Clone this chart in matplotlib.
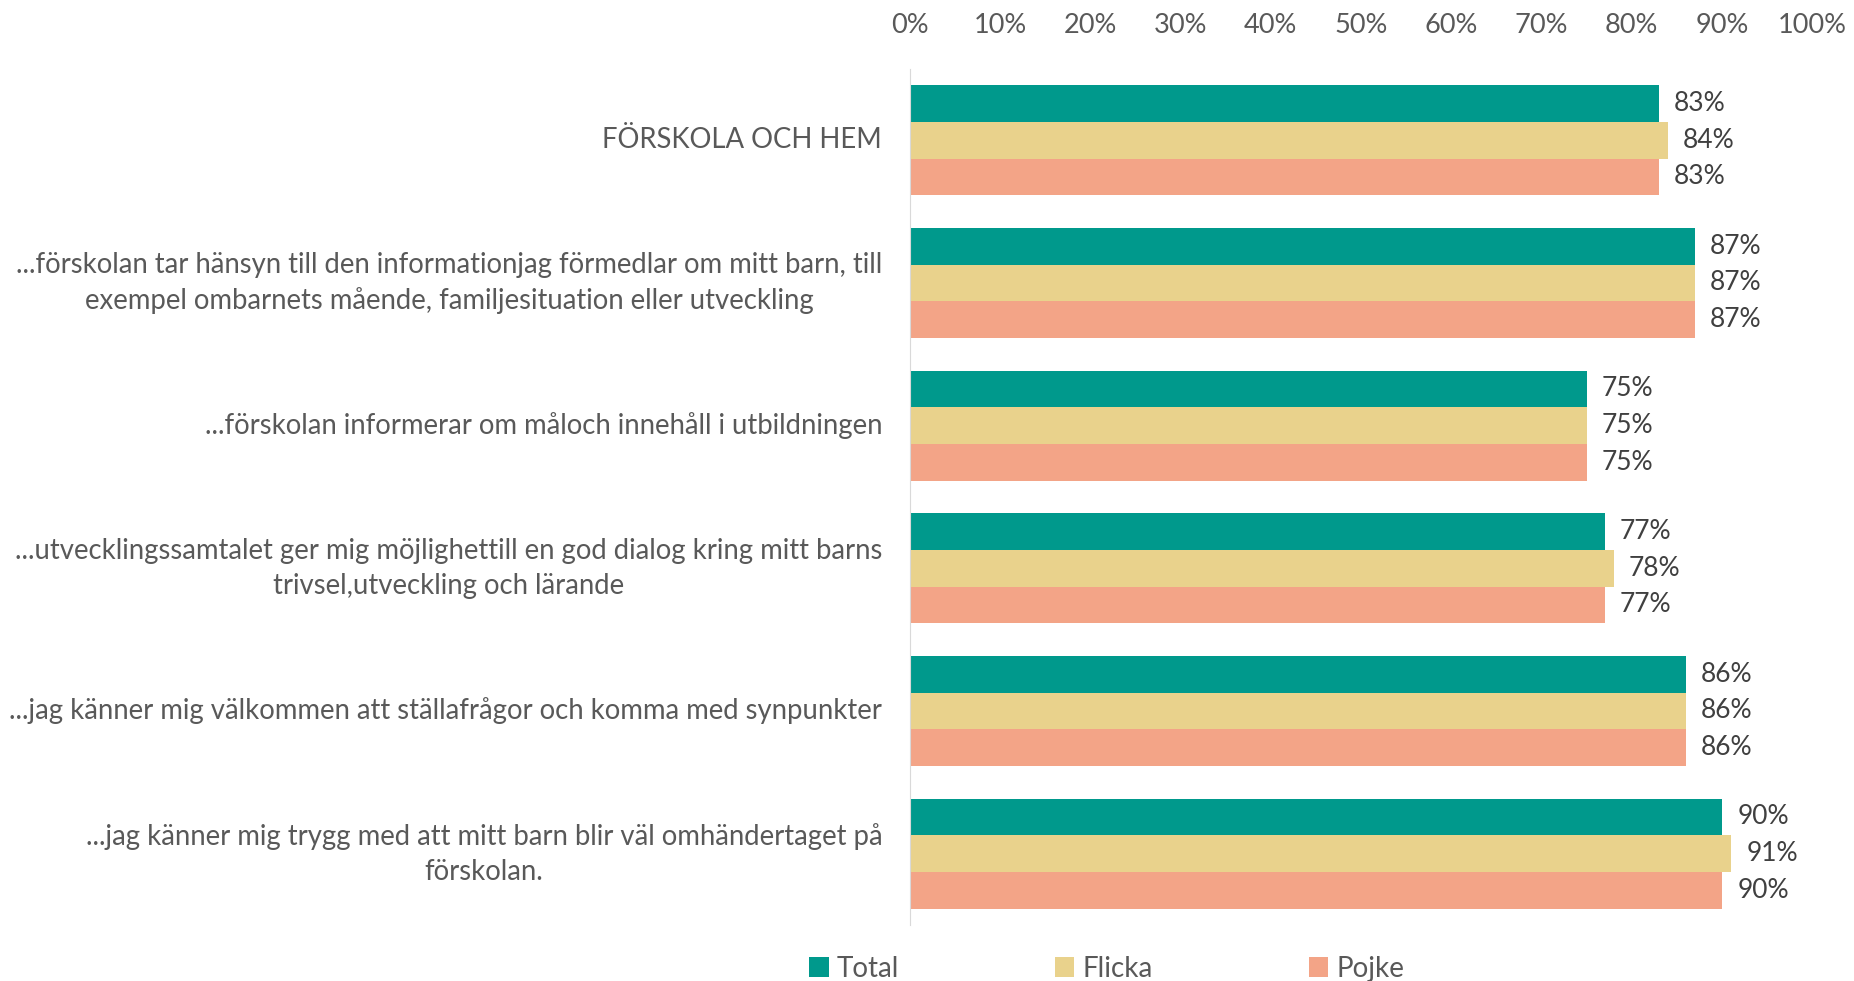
import matplotlib
matplotlib.use("Agg")
import matplotlib.pyplot as plt
import numpy as np

categories = [
    "FÖRSKOLA OCH HEM",
    "...förskolan tar hänsyn till den informationjag förmedlar om mitt barn, till\nexempel ombarnets mående, familjesituation eller utveckling",
    "...förskolan informerar om måloch innehåll i utbildningen",
    "...utvecklingssamtalet ger mig möjlighettill en god dialog kring mitt barns\ntrivsel,utveckling och lärande",
    "...jag känner mig välkommen att ställafrågor och komma med synpunkter",
    "...jag känner mig trygg med att mitt barn blir väl omhändertaget på\nförskolan.",
]
series_names = ["Total", "Flicka", "Pojke"]
total = [83, 87, 75, 77, 86, 90]
flicka = [84, 87, 75, 78, 86, 91]
pojke = [83, 87, 75, 77, 86, 90]
xticks = list(range(0, 101, 10))
colors = ["#00998C", "#E9D28C", "#F3A487"]

plt.rcParams['font.family'] = ['Lato', 'DejaVu Sans']
txt = "#595959"

fig = plt.figure(figsize=(18.54, 9.81), dpi=100)
ax = fig.add_axes([0.4908, 0.0571, 0.4866, 0.8726])

n = len(categories)
y = np.arange(n)
h = 0.257
for i, (vals, name, c) in enumerate(zip([total, flicka, pojke], series_names, colors)):
    pos = y + (i - 1) * h
    bars = ax.barh(pos, vals, height=h, color=c, label=name)
    for b, v in zip(bars, vals):
        ax.text(v + 1.7, b.get_y() + b.get_height() / 2, f"{v}%", va="center", ha="left",
                fontsize=19, color="#404040")

ax.set_xlim(0, 100)
ax.set_ylim(n - 0.5, -0.5)
ax.xaxis.tick_top()
ax.set_xticks(xticks)
ax.set_xticklabels([f"{t}%" for t in xticks], fontsize=19.5, color=txt)
ax.tick_params(axis="x", length=0, pad=22)
ax.set_yticks(y)
ax.set_yticklabels(categories, fontsize=19.8, color=txt)
for lab in ax.get_yticklabels():
    lab.set_multialignment("center")
    lab.set_linespacing(1.42)
    lab.set_va("center")
ax.tick_params(axis="y", length=0, pad=20)
for s in ["top", "right", "bottom"]:
    ax.spines[s].set_visible(False)
ax.spines["left"].set_color("#D9D9D9")

handles, labels = ax.get_legend_handles_labels()
leg = fig.legend(handles, labels, loc="lower center", bbox_to_anchor=(0.597, -0.026), ncol=3,
                 frameon=False, fontsize=20, handlelength=0.7, handleheight=0.7,
                 handletextpad=0.3, columnspacing=5.6, labelcolor=txt)

fig.savefig("out.png", dpi=100)
